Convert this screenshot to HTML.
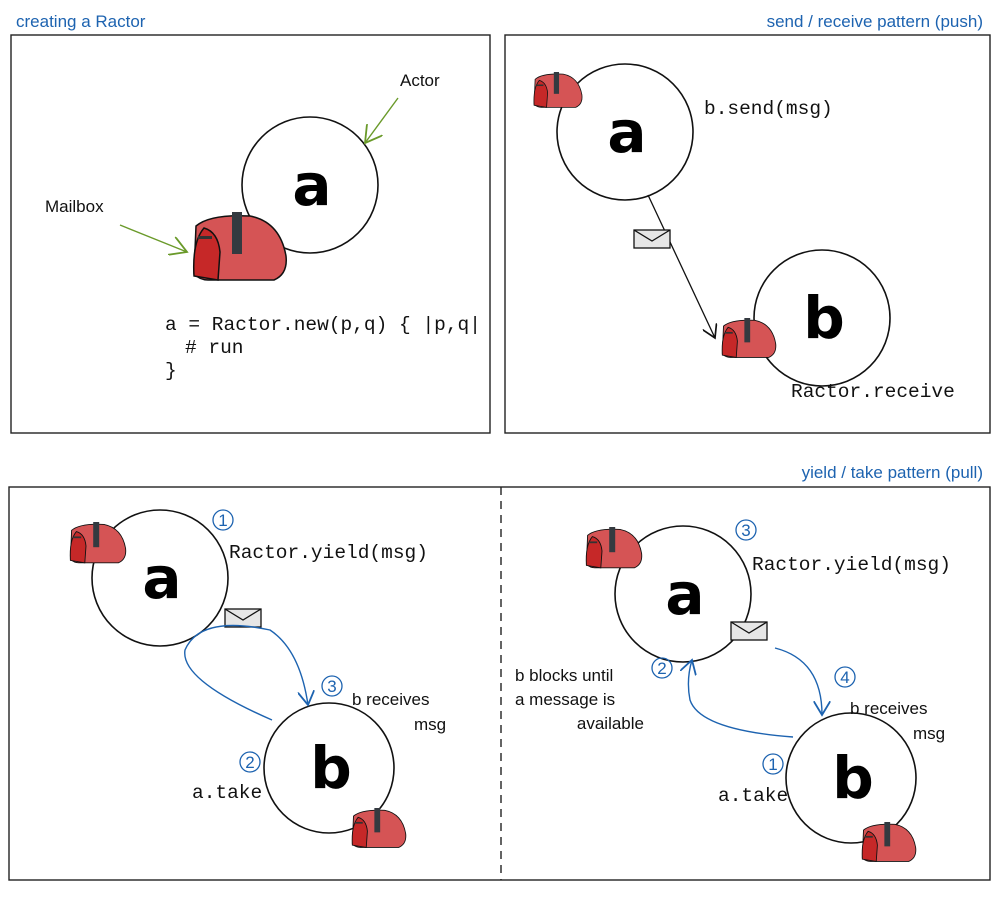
<!DOCTYPE html>
<html><head><meta charset="utf-8"><style>
body{margin:0;background:#fff}
svg{display:block}
.mono{font-family:"Liberation Mono","DejaVu Sans Mono",monospace;font-size:19.5px;fill:#111}
.blue{fill:#1d63b0;font-family:"Liberation Sans",sans-serif;font-size:17px}
.big{font-family:"DejaVu Sans",sans-serif;font-size:58px;font-weight:bold;fill:#000}
.note{font-family:"Liberation Sans",sans-serif;font-size:17px;fill:#111}
</style></head><body>
<svg width="1000" height="898" viewBox="0 0 1000 898">
<defs>
<g id="mb">
<path d="M6 14 Q20 2 60 4 Q90 10 96 44 Q98 62 84 68 L18 68 Q10 68 4 62 Z" fill="#d55455" stroke="#111" stroke-width="1.5"/>
<path d="M4 64 Q2 30 14 16 Q28 20 30 40 L28 68 Z" fill="#c62828" stroke="#111" stroke-width="1.5"/>
<rect x="8" y="24" width="14" height="3" fill="#333"/>
<rect x="42" y="0" width="10" height="42" fill="#343a40"/>
</g>
<g id="env">
<rect x="0" y="0" width="36" height="18" fill="#e6e6e6" stroke="#111" stroke-width="1.3"/>
<path d="M0 0 L18 11 L36 0" fill="none" stroke="#111" stroke-width="1.3"/>
</g>
<marker id="ab" markerWidth="12" markerHeight="12" refX="10" refY="6" orient="auto"><path d="M0 0 L10 6 L0 12" fill="none" stroke="#111" stroke-width="1.3"/></marker>
<marker id="abl" markerWidth="12" markerHeight="12" refX="10" refY="6" orient="auto"><path d="M0 0 L10 6 L0 12" fill="none" stroke="#1d63b0" stroke-width="1.3"/></marker>
<marker id="ag" markerWidth="14" markerHeight="14" refX="12" refY="7" orient="auto"><path d="M0 0 L12 7 L0 14" fill="none" stroke="#6a9a2a" stroke-width="1.3"/></marker>
</defs>
<g fill="none" stroke="#222" stroke-width="1.4">
<rect x="11" y="35" width="479" height="398"/>
<rect x="505" y="35" width="485" height="398"/>
<rect x="9" y="487" width="981" height="393"/>
<line x1="501" y1="487" x2="501" y2="880" stroke-dasharray="8,6"/>
</g>
<text x="16" y="27" class="blue">creating a Ractor</text>
<text x="983" y="27" class="blue" text-anchor="end">send / receive pattern (push)</text>
<text x="983" y="478" class="blue" text-anchor="end">yield / take pattern (pull)</text>

<circle cx="310" cy="185" r="68" fill="none" stroke="#111" stroke-width="1.6"/>
<text x="312" y="205" class="big" text-anchor="middle">a</text>
<use href="#mb" x="190" y="212"/>
<line x1="398" y1="98" x2="365" y2="143" stroke="#6a9a2a" stroke-width="1.4" marker-end="url(#ag)"/>
<line x1="120" y1="225" x2="187" y2="252" stroke="#6a9a2a" stroke-width="1.4" marker-end="url(#ag)"/>
<text x="400" y="86" class="note" font-size="16">Actor</text>
<text x="45" y="212" class="note" font-size="15">Mailbox</text>
<text x="165" y="330" class="mono">a = Ractor.new(p,q) { |p,q|</text>
<text x="185" y="353" class="mono"># run</text>
<text x="165" y="376" class="mono">}</text>

<circle cx="625" cy="132" r="68" fill="none" stroke="#111" stroke-width="1.6"/>
<text x="627" y="152" class="big" text-anchor="middle">a</text>
<g transform="translate(532,72) scale(0.52)"><use href="#mb"/></g>
<text x="704" y="114" class="mono">b.send(msg)</text>
<circle cx="822" cy="318" r="68" fill="none" stroke="#111" stroke-width="1.6"/>
<text x="824" y="338" class="big" text-anchor="middle">b</text>
<line x1="648" y1="195" x2="715" y2="338" stroke="#111" stroke-width="1.3" marker-end="url(#ab)"/>
<use href="#env" x="634" y="230"/>
<g transform="translate(720,318) scale(0.58)"><use href="#mb"/></g>
<text x="791" y="397" class="mono">Ractor.receive</text>

<circle cx="160" cy="578" r="68" fill="none" stroke="#111" stroke-width="1.6"/>
<text x="162" y="598" class="big" text-anchor="middle">a</text>
<g transform="translate(68,522) scale(0.6)"><use href="#mb"/></g>
<use href="#env" x="225" y="609"/>
<text x="229" y="558" class="mono">Ractor.yield(msg)</text>
<circle cx="329" cy="768" r="65" fill="none" stroke="#111" stroke-width="1.6"/>
<text x="331" y="788" class="big" text-anchor="middle">b</text>
<g transform="translate(350,808) scale(0.58)"><use href="#mb"/></g>
<path d="M272 720 Q180 680 185 650 Q200 615 270 630 Q300 650 308 705" fill="none" stroke="#1d63b0" stroke-width="1.4" marker-end="url(#abl)"/>
<circle cx="223" cy="520" r="10" fill="none" stroke="#1d63b0" stroke-width="1.3"/><text x="223" y="526" class="blue" text-anchor="middle" font-size="15">1</text>
<circle cx="250" cy="762" r="10" fill="none" stroke="#1d63b0" stroke-width="1.3"/><text x="250" y="768" class="blue" text-anchor="middle" font-size="15">2</text>
<circle cx="332" cy="686" r="10" fill="none" stroke="#1d63b0" stroke-width="1.3"/><text x="332" y="692" class="blue" text-anchor="middle" font-size="15">3</text>
<text x="352" y="705" class="note">b receives</text>
<text x="414" y="730" class="note" font-size="15">msg</text>
<text x="192" y="798" class="mono">a.take</text>

<circle cx="683" cy="594" r="68" fill="none" stroke="#111" stroke-width="1.6"/>
<text x="685" y="614" class="big" text-anchor="middle">a</text>
<g transform="translate(584,527) scale(0.6)"><use href="#mb"/></g>
<use href="#env" x="731" y="622"/>
<text x="752" y="570" class="mono">Ractor.yield(msg)</text>
<circle cx="851" cy="778" r="65" fill="none" stroke="#111" stroke-width="1.6"/>
<text x="853" y="798" class="big" text-anchor="middle">b</text>
<g transform="translate(860,822) scale(0.58)"><use href="#mb"/></g>
<path d="M793 737 Q700 730 690 700 Q686 680 692 660" fill="none" stroke="#1d63b0" stroke-width="1.4" marker-end="url(#abl)"/>
<path d="M775 648 Q822 660 822 715" fill="none" stroke="#1d63b0" stroke-width="1.4" marker-end="url(#abl)"/>
<circle cx="746" cy="530" r="10" fill="none" stroke="#1d63b0" stroke-width="1.3"/><text x="746" y="536" class="blue" text-anchor="middle" font-size="15">3</text>
<circle cx="662" cy="668" r="10" fill="none" stroke="#1d63b0" stroke-width="1.3"/><text x="662" y="674" class="blue" text-anchor="middle" font-size="15">2</text>
<circle cx="845" cy="677" r="10" fill="none" stroke="#1d63b0" stroke-width="1.3"/><text x="845" y="683" class="blue" text-anchor="middle" font-size="15">4</text>
<circle cx="773" cy="764" r="10" fill="none" stroke="#1d63b0" stroke-width="1.3"/><text x="773" y="770" class="blue" text-anchor="middle" font-size="15">1</text>
<text x="515" y="681" class="note">b blocks until</text>
<text x="515" y="705" class="note">a message is</text>
<text x="644" y="729" class="note" text-anchor="end">available</text>
<text x="850" y="714" class="note">b receives</text>
<text x="913" y="739" class="note" font-size="15">msg</text>
<text x="718" y="801" class="mono">a.take</text>
</svg>
</body></html>
